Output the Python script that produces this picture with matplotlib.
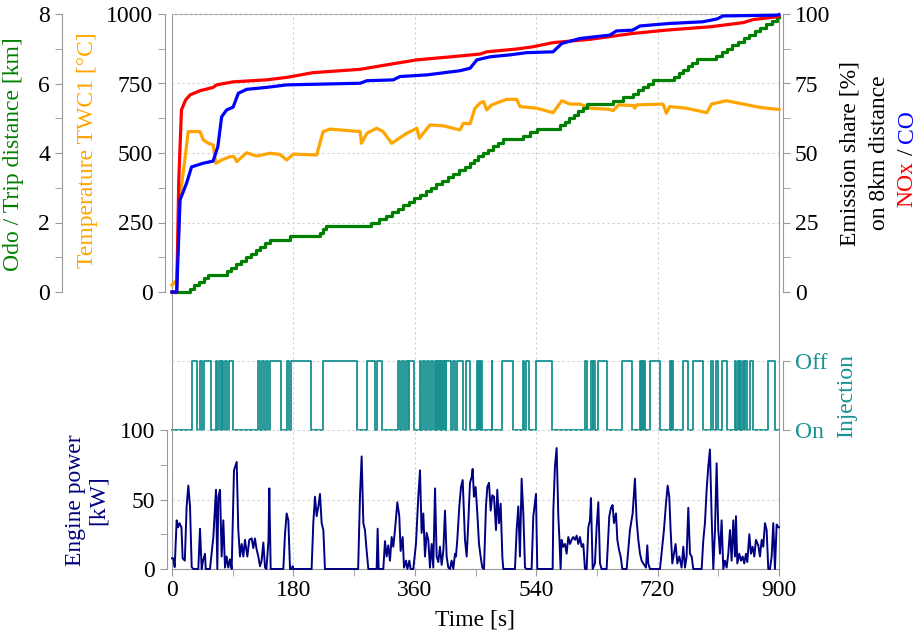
import numpy as np
import matplotlib
matplotlib.use("Agg")
import matplotlib.pyplot as plt
from matplotlib.ticker import MultipleLocator

plt.rcParams['font.family'] = ['Liberation Serif', 'DejaVu Serif']
plt.rcParams['font.size'] = 17

# ---- data ----
# catalyst temperature [degC]
temp_t = [0, 7, 12, 19, 24, 41.5, 46.5, 54, 61, 65, 74, 86, 92, 96, 110.7, 125.5, 145, 160,
          170, 180, 214.5, 224, 234, 279, 281, 289, 303.5, 313, 325.7, 348, 363, 366.7, 382.5,
          402, 417, 427, 432, 442, 449, 457, 462, 466.6, 474, 496, 511, 516, 541, 565, 578,
          590, 605, 620, 649, 654, 662, 684, 686, 689, 728, 733, 738, 763, 793, 800, 822, 847,
          872, 897, 900]
temp_c = [25, 43, 343, 475, 577, 577, 547, 535, 529, 463, 475, 487, 487, 469, 501, 489, 499, 495,
          475, 496, 493, 577, 586, 577, 535, 571, 589, 577, 535, 571, 589, 553, 601,
          598, 589, 583, 607, 605, 660, 680, 685, 655, 673, 693, 693, 667, 661, 645, 688,
          676, 676, 661, 657, 652, 673, 671, 661, 673, 676, 643, 667, 661, 645, 676, 688, 676,
          664, 657, 657]

# cumulative emission share [%]
nox_t = [0, 7, 10, 14, 20, 26.7, 41.5, 61, 66, 90.6, 140, 170, 209, 279, 318, 363, 427, 457,
         466.6, 511, 535, 565, 620, 683, 733, 798, 847, 862, 897, 900]
nox_pct = [0, 0, 40, 65.5, 69, 70.9, 72.4, 73.6, 74.5, 75.6, 76.3, 77.2, 78.9, 80.1, 81.7, 83.5,
           84.9, 85.6, 86.4, 87.4, 88.2, 89.7, 90.9, 93, 94.2, 95.4, 96.9, 98, 99, 99.3]
co_t = [0, 7, 11.9, 21.7, 29, 46, 61, 68, 73.6, 81, 90.6, 98.4, 110.7, 140, 170, 279, 289, 328,
        338, 378, 427, 442, 452, 471.5, 501, 526, 565, 578, 605, 649, 659, 683, 694, 738, 787,
        808, 817, 897, 900]
co_pct = [0, 0, 33.1, 39.2, 45, 46.3, 47.1, 52.3, 63, 65.5, 66.5, 71.5, 72.9, 73.6, 74.5, 75.1,
          76, 76.3, 77.5, 78.1, 79.6, 80.5, 83.5, 84.6, 85.3, 86.1, 86.4, 89.4, 91.2, 92.4, 93.9,
          94.2, 95.7, 96.6, 97.2, 98.2, 99.3, 99.6, 99.8]

# odometer: time at which each 0.1 km increment shows up
odo_step_t = [26, 33, 40, 47, 54, 81, 88, 95, 102, 110, 117, 124, 131, 138, 145, 175, 219, 224,
              229, 295, 307, 318, 326, 335, 343, 351, 359, 368, 376, 384, 392, 401, 409, 417,
              425, 434, 442, 448, 454, 461, 468, 476, 483, 491, 521, 531, 541, 576, 583, 589,
              596, 602, 609, 615, 654, 669, 684, 691, 699, 706, 713, 745, 751, 758, 765, 771,
              778, 806, 815, 823, 831, 839, 848, 856, 864, 872, 881, 889, 897]
odo_km = [0.1, 0.2, 0.3, 0.4, 0.5, 0.6, 0.7, 0.8, 0.9, 1.0, 1.1, 1.2, 1.3, 1.4, 1.5, 1.6, 1.7, 1.8,
          1.9, 2.0, 2.1, 2.2, 2.3, 2.4, 2.5, 2.6, 2.7, 2.8, 2.9, 3.0, 3.1, 3.2, 3.3, 3.4,
          3.5, 3.6, 3.7, 3.8, 3.9, 4.0, 4.1, 4.2, 4.3, 4.4, 4.5, 4.6, 4.7, 4.8, 4.9, 5.0,
          5.1, 5.2, 5.3, 5.4, 5.5, 5.6, 5.7, 5.8, 5.9, 6.0, 6.1, 6.2, 6.3, 6.4, 6.5, 6.6,
          6.7, 6.8, 6.9, 7.0, 7.1, 7.2, 7.3, 7.4, 7.5, 7.6, 7.7, 7.8, 7.9]

# fuel injection cut-off intervals (start, end) [s]
inj_off = [(29.6, 37.6), (42, 45), (47.5, 58.3), (64.7, 67.2), (69.2, 72.2), (74.1, 76.1),
           (79.1, 82), (84.5, 90.4), (127.5, 130.5), (133.4, 136.4), (139.4, 142.3),
           (145.3, 162.1), (171, 173.5), (176, 205.6), (224.4, 274.8), (289.6, 300.5),
           (303.5, 311.4), (335.1, 338.5), (341, 344), (347, 350), (351.9, 358.8),
           (367.2, 369.7), (372.6, 375.6), (378.6, 381.5), (384.5, 387), (389.4, 391),
           (392.5, 394), (395.5, 397), (398.5, 400), (401.5, 403), (404.5, 406), (407, 414.1),
           (417.1, 420.1), (423, 431.4), (435.4, 441.8), (451.7, 453.5), (455, 456.5),
           (458, 459.1), (473.9, 475), (488.8, 506), (519.9, 522.4), (524.3, 529.8),
           (539.7, 562.9), (612.3, 615.8), (620.7, 623.7), (624.7, 627.1), (632, 644.4),
           (666.7, 681.5), (693.8, 695.3), (696.8, 698.3), (699.8, 701.2), (708.7, 723.5),
           (738.3, 739.8), (741.3, 743.3), (758.1, 765.5), (771.9, 786.8), (798.6, 802.6),
           (806.5, 810), (814.9, 822.3), (834.7, 836.7), (838.7, 840.6), (842.1, 844),
           (846.1, 848), (850, 853), (856.9, 860.9), (884.1, 894)]

# engine power [kW]
pow_t = [0, 2, 4, 6.9, 9, 11, 14, 15.8, 19, 21.7, 24.2, 26.7, 29.2, 31.6,
         39, 41.5, 44, 46, 48.9, 50,
         56.3, 61.3, 65.2, 67.2, 68.7, 71.2, 73.6, 76.1, 78.6, 81, 83.5, 86, 88.5,
         91.9, 95.9, 98.3, 100.8, 103.3, 105.8, 108.2, 111.7, 114.6, 118.1, 120.6, 123, 125.5,
         128, 130.5, 132.9, 135.4, 137.9, 140, 143, 144.3, 146.3,
         165.1, 167.5, 170, 172.5, 175, 177.5, 178.9, 180,
         207, 209.5, 212, 214.5, 217, 219.4, 221.9, 224.4, 226.8,
         276, 278.7, 281.2, 283.7, 286.1, 288.6, 291.1,
         303.4, 304.9, 306.4, 313.3, 315.8, 318.3, 320.7, 323.2, 325.7, 328.1, 330.6, 334.1,
         337, 339, 342, 344, 347, 349, 351.9, 353.8,
         357.8, 361.7, 365.2, 367.7, 370.1, 372.6, 375.1, 377.6, 380, 382.5, 385, 387.4, 390,
         392.4, 394.9, 397.3, 399.8, 402.3, 404.8, 407.2, 409.7, 412.2, 414.6, 417.1, 419.6,
         421, 423, 426, 428.5, 431, 433, 434.4, 436.9, 439.3, 441.8, 444.3, 445.8, 447.7,
         450.2, 452.7, 455.2, 457.6, 460.1, 462.6, 465.5, 467.5, 470, 472.5, 474.9, 477.4,
         480.4, 482.3, 484.8, 487.3, 489.8, 491.2,
         508.5, 511, 513.5, 515.9, 518.4, 520.9, 523.4, 525.8,
         533.2, 535.7, 539.7, 541.6,
         564.4, 565.4, 567.8, 570.3, 572.8, 574.3, 576.2, 577.7, 580.2, 582.7, 585.1, 587.6,
         590.1, 592.5, 595, 597.5, 600, 602.4, 604.9, 607.4, 609.8, 612.3,
         614.8, 617.3, 619.7, 621.2, 623.7, 627.1, 629.6, 632.1, 634.6, 637,
         644.4, 648.4, 650.9, 653.3, 655.3, 658.3, 660.3, 662.7, 665.2, 667.7,
         674.1, 679, 683, 686.4, 688.9, 691.4, 693.9, 696.3, 698.8, 702.8, 704.7, 706.2, 708.7,
         723.5, 729.4, 732.4, 734.9, 737.3, 739.3, 741.8, 744.3, 746.7, 749.2, 752.2, 755.6,
         758.1, 760.6, 763, 765.5, 768, 770.5, 772.9,
         785.3, 787.8, 790.2, 792.7, 795.2, 797.6, 800.1, 802.6, 805.1, 807.5, 810, 812.5,
         814.9, 817.4, 819.9, 822.4, 824.8, 827.3, 829.8, 832.2, 834.7, 836.2, 838.2, 841.1,
         843.6, 846.1, 848.5, 851, 853, 856, 858.4, 860.9, 863.4, 865.8, 869.3, 871.8, 874.3,
         876.7, 879.2, 881.7, 884.1, 886.6, 889.1, 891.5, 894, 896.5, 899, 900]
pow_kw = [7.7, 7.7, 1.4, 35, 30, 33, 30, 7.7, 6, 45, 60, 45, 1.4, 0,
          0, 29, 0, 6, 11, 0,
          0, 23, 57, 0, 52, 57, 9, 35, 1, 9, 1, 7, 0,
          71, 77, 28, 9, 18, 9, 21, 9, 21, 22, 15, 22, 14,
          9, 2, 6, 19, 1, 0, 20, 58, 0,
          0, 25, 40, 35, 0, 0, 2, 0,
          0, 33, 52, 38, 45, 54, 33, 28, 0,
          0, 52, 81, 33, 28, 13, 0,
          0, 29, 0, 0, 20, 9, 17, 6, 23, 16, 28, 48,
          38, 13, 23, 1, 6, 0, 6, 0,
          0, 18, 52, 71, 26, 40, 9, 26, 21, 1, 18, 1, 58,
          9, 5, 16, 3, 13, 42, 9, 1, 0, 6, 0, 11,
          9, 21, 45, 59, 64, 38, 21, 9, 33, 62, 66, 72, 52,
          59, 40, 18, 9, 1, 0, 45, 59, 62, 42, 53, 52,
          28, 57, 33, 47, 9, 0,
          0, 28, 45, 9, 65, 40, 1, 0,
          0, 38, 54, 0,
          0, 42, 74, 87, 38, 23, 0, 21, 16, 18, 11, 23,
          18, 21, 23, 21, 24, 18, 23, 16, 18, 0,
          0, 30, 35, 51, 0, 4, 30, 48, 4, 0,
          0, 38, 44, 46, 33, 40, 21, 14, 9, 0,
          0, 28, 40, 65, 35, 21, 11, 6, 4, 1, 17, 4, 0,
          0, 28, 47, 60, 52, 28, 4, 11, 18, 4, 9, 1,
          16, 1, 9, 44, 11, 9, 0,
          0, 21, 33, 57, 74, 86, 38, 0, 28, 76, 28, 11,
          35, 0, 6, 1, 11, 28, 6, 35, 9, 38, 4, 11,
          6, 9, 4, 11, 5, 25, 11, 16, 9, 21, 17, 9, 21,
          16, 33, 28, 0, 0, 9, 33, 0, 32, 30, 30]

# ---- layout (pixel positions from the reference) ----
W, H = 922, 634
GRAY = '#999999'
GRID = '#cfcfcf'
TEAL = '#179191'
X0, X1 = 172, 779


def box(top, bottom):
    return [X0 / W, 1 - bottom / H, (X1 - X0) / W, (bottom - top) / H]


def fy(py):
    return 1 - py / H


def style_axis(a, side, outward_px):
    for s in a.spines.values():
        s.set_visible(False)
    a.spines[side].set_visible(True)
    a.spines[side].set_color(GRAY)
    a.spines[side].set_position(('outward', outward_px * 0.72))
    a.yaxis.set_ticks_position(side)
    a.tick_params(axis='y', which='both', direction='out', length=5, color=GRAY)
    a.tick_params(axis='x', which='both', bottom=False, labelbottom=False)
    a.patch.set_visible(False)


fig = plt.figure(figsize=(9.22, 6.34), dpi=100)

# frame + time axis
ax = fig.add_axes(box(14, 569))
ax.set_xlim(0, 900)
ax.set_yticks([])
for s in ax.spines.values():
    s.set_color(GRAY)
ax.xaxis.set_major_locator(MultipleLocator(180))
ax.xaxis.set_minor_locator(MultipleLocator(90))
ax.tick_params(axis='x', which='both', direction='out', length=5, color=GRAY, pad=3)
ax.grid(axis='x', ls=(0, (2, 2.5)), color=GRID, lw=0.8)
ax.set_axisbelow(True)

# upper panel: temperature / odometer / emissions
ax_top = fig.add_axes(box(14, 292), sharex=ax)
style_axis(ax_top, 'left', 7)
ax_top.set_ylim(0, 1000)
ax_top.yaxis.set_major_locator(MultipleLocator(250))
ax_top.yaxis.set_minor_locator(MultipleLocator(125))
ax_top.grid(axis='y', ls=(0, (2, 2.5)), color=GRID, lw=0.8)
ax_top.plot(temp_t, temp_c, color='orange', lw=2.3, clip_on=False)

ax_odo = ax_top.twinx()
style_axis(ax_odo, 'left', 110)
ax_odo.set_ylim(0, 8)
ax_odo.yaxis.set_major_locator(MultipleLocator(2))
ax_odo.yaxis.set_minor_locator(MultipleLocator(1))
ax_odo.step([0] + odo_step_t + [900], [0] + odo_km + [odo_km[-1]], where='post',
             color='green', lw=2.3, clip_on=False)

ax_em = ax_top.twinx()
style_axis(ax_em, 'right', 4)
ax_em.set_ylim(0, 100)
ax_em.yaxis.set_major_locator(MultipleLocator(25))
ax_em.yaxis.set_minor_locator(MultipleLocator(12.5))
ax_em.plot(nox_t, nox_pct, color='red', lw=2.3, clip_on=False)
ax_em.plot(co_t, co_pct, color='blue', lw=2.3, clip_on=False)

# injection on/off
ax_inj = fig.add_axes(box(361, 430), sharex=ax)
style_axis(ax_inj, 'right', 4)
ax_inj.set_ylim(0, 1)
ax_inj.set_yticks([0, 1])
ax_inj.set_yticklabels(['On', 'Off'])
ax_inj.tick_params(axis='y', labelcolor=TEAL)
ax_inj.grid(axis='y', ls=(0, (2, 2.5)), color=GRID, lw=0.8)
inj_t, inj_s = [0.0], [0]
for a, b in inj_off:
    inj_t += [a, b]
    inj_s += [1, 0]
inj_t.append(900)
inj_s.append(0)
ax_inj.step(inj_t, inj_s, where='post', color=TEAL, lw=1.3, clip_on=False)

# engine power
ax_pow = fig.add_axes(box(430, 569), sharex=ax)
style_axis(ax_pow, 'left', 5)
ax_pow.set_ylim(0, 100)
ax_pow.yaxis.set_major_locator(MultipleLocator(50))
ax_pow.yaxis.set_minor_locator(MultipleLocator(25))
ax_pow.grid(axis='y', ls=(0, (2, 2.5)), color=GRID, lw=0.8)
ax_pow.plot(pow_t, pow_kw, color='navy', lw=1.4, clip_on=False)

# labels
fig.text(14 / W, fy(154), 'Odo / Trip distance [km]', color='green', rotation=90,
         ha='center', va='center')
fig.text(87 / W, fy(150), 'Temperature TWC1 [°C]', color='orange', rotation=90,
         ha='center', va='center')
fig.text(87 / W, fy(500), 'Engine power\n[kW]', color='navy', rotation=90,
         ha='center', va='center', multialignment='center', linespacing=1.1)
fig.text(847 / W, fy(396), 'Injection', color=TEAL, rotation=90, ha='center', va='center')
fig.text(850 / W, fy(153), 'Emission share [%]', rotation=90, ha='center', va='center')
fig.text(879 / W, fy(153), 'on 8km distance', rotation=90, ha='center', va='center')
fig.text(907 / W, fy(161), 'NOx', color='red', rotation=90, ha='center', va='top')
fig.text(907 / W, fy(152), '/', rotation=90, ha='center', va='center')
fig.text(907 / W, fy(143), 'CO', color='blue', rotation=90, ha='center', va='bottom')
fig.text(475 / W, fy(620), 'Time [s]', ha='center', va='center')

fig.savefig('out.png', dpi=100)
